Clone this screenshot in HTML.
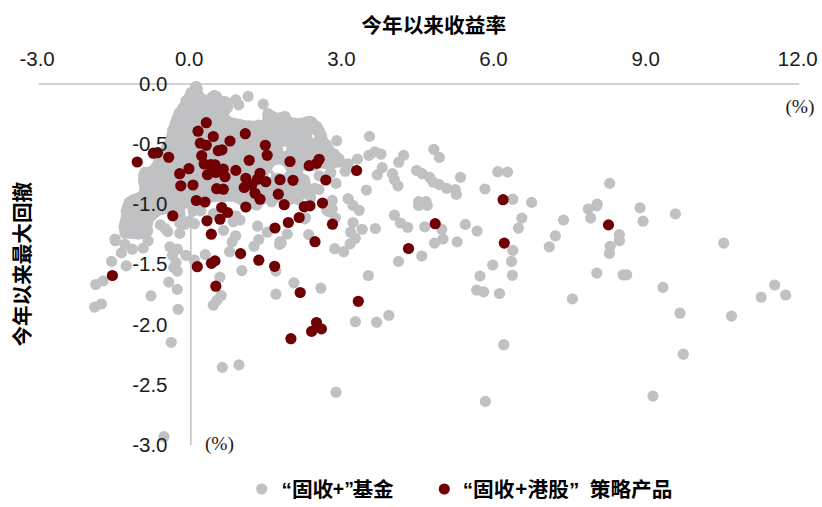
<!DOCTYPE html>
<html><head><meta charset="utf-8"><title>chart</title>
<style>html,body{margin:0;padding:0;background:#fff;font-family:"Liberation Sans",sans-serif}</style></head>
<body><svg width="822" height="507" viewBox="0 0 822 507" style="display:block">
<rect width="822" height="507" fill="#fff"/>
<line x1="38.6" y1="84.0" x2="799.3" y2="84.0" stroke="#c4c4c4" stroke-width="1.6"/>
<line x1="190.8" y1="84.0" x2="190.8" y2="445.3" stroke="#c4c4c4" stroke-width="1.6"/>
<g fill="#c0c1c3">
<path d="M196.1 86.5 L196.6 92.0 L199.5 97.0 L204.0 101.0 L208.0 100.5 L214.2 96.1 L220.0 102.0 L224.9 102.1 L227.6 107.5 L223.0 113.0 L222.0 118.0 L227.0 122.0 L237.0 124.2 L246.0 126.0 L255.0 126.3 L262.0 126.0 L268.0 124.0 L268.0 114.1 L279.5 120.1 L284.8 116.8 L289.0 125.0 L298.9 124.1 L309.6 121.5 L315.7 126.2 L319.0 132.2 L324.4 144.3 L331.1 153.7 L339.1 159.0 L339.5 161.7 L329.3 162.6 L320.0 163.0 L310.0 165.0 L298.6 165.1 L296.0 172.0 L300.0 180.0 L304.6 181.3 L303.0 188.0 L302.0 191.5 L297.0 198.0 L285.0 200.0 L278.0 196.0 L262.0 197.0 L256.7 204.0 L243.3 200.8 L234.2 195.0 L220.0 196.0 L205.0 197.0 L199.0 206.0 L194.0 210.5 L186.0 212.0 L179.6 214.0 L172.0 210.0 L163.0 207.0 L151.5 213.0 L148.0 220.0 L147.0 226.0 L146.0 232.0 L138.0 234.0 L127.0 232.5 L124.2 226.7 L126.7 216.7 L129.2 202.5 L135.0 200.0 L146.4 193.3 L143.7 180.8 L145.0 172.5 L153.0 172.0 L156.7 166.5 L164.2 153.2 L169.2 144.8 L171.7 136.5 L174.8 126.0 L176.5 121.0 L178.6 115.5 L181.2 111.3 L184.5 106.0 L188.4 99.3 L190.6 95.1 L195.4 90.0Z" stroke="#c0c1c3" stroke-width="11.2" stroke-linejoin="round"/>
<circle cx="196.6" cy="88.6" r="5.6"/>
<circle cx="196.6" cy="94.9" r="5.6"/>
<circle cx="199.6" cy="99.1" r="5.6"/>
<circle cx="205.9" cy="102.3" r="5.6"/>
<circle cx="212.5" cy="97.0" r="5.6"/>
<circle cx="216.5" cy="96.4" r="5.6"/>
<circle cx="222.2" cy="101.7" r="5.6"/>
<circle cx="226.8" cy="102.8" r="5.6"/>
<circle cx="225.4" cy="107.8" r="5.6"/>
<circle cx="220.8" cy="116.5" r="5.6"/>
<circle cx="225.6" cy="119.1" r="5.6"/>
<circle cx="229.4" cy="122.2" r="5.6"/>
<circle cx="239.1" cy="124.3" r="5.6"/>
<circle cx="249.4" cy="125.8" r="5.6"/>
<circle cx="258.6" cy="125.2" r="5.6"/>
<circle cx="265.1" cy="124.6" r="5.6"/>
<circle cx="267.7" cy="121.4" r="5.6"/>
<circle cx="269.7" cy="116.7" r="5.6"/>
<circle cx="277.0" cy="118.4" r="5.6"/>
<circle cx="281.4" cy="117.3" r="5.6"/>
<circle cx="288.8" cy="121.6" r="5.6"/>
<circle cx="294.3" cy="123.1" r="5.6"/>
<circle cx="301.1" cy="123.3" r="5.6"/>
<circle cx="307.8" cy="121.6" r="5.6"/>
<circle cx="311.7" cy="122.0" r="5.6"/>
<circle cx="318.2" cy="128.9" r="5.6"/>
<circle cx="321.5" cy="135.7" r="5.6"/>
<circle cx="321.9" cy="142.3" r="5.6"/>
<circle cx="326.4" cy="144.8" r="5.6"/>
<circle cx="329.5" cy="149.9" r="5.6"/>
<circle cx="334.2" cy="154.1" r="5.6"/>
<circle cx="337.8" cy="160.4" r="5.6"/>
<circle cx="332.9" cy="163.2" r="5.6"/>
<circle cx="325.6" cy="163.7" r="5.6"/>
<circle cx="314.7" cy="165.5" r="5.6"/>
<circle cx="308.6" cy="163.5" r="5.6"/>
<circle cx="299.9" cy="166.5" r="5.6"/>
<circle cx="295.6" cy="168.8" r="5.6"/>
<circle cx="297.8" cy="173.5" r="5.6"/>
<circle cx="303.1" cy="179.4" r="5.6"/>
<circle cx="305.4" cy="184.1" r="5.6"/>
<circle cx="303.1" cy="190.8" r="5.6"/>
<circle cx="302.0" cy="193.7" r="5.6"/>
<circle cx="294.3" cy="196.9" r="5.6"/>
<circle cx="288.1" cy="199.8" r="5.6"/>
<circle cx="280.2" cy="197.6" r="5.6"/>
<circle cx="272.9" cy="197.7" r="5.6"/>
<circle cx="266.6" cy="198.1" r="5.6"/>
<circle cx="261.8" cy="199.6" r="5.6"/>
<circle cx="253.5" cy="204.2" r="5.6"/>
<circle cx="244.8" cy="202.6" r="5.6"/>
<circle cx="236.3" cy="197.4" r="5.6"/>
<circle cx="229.8" cy="196.2" r="5.6"/>
<circle cx="222.9" cy="197.2" r="5.6"/>
<circle cx="214.2" cy="196.7" r="5.6"/>
<circle cx="210.6" cy="196.9" r="5.6"/>
<circle cx="203.2" cy="200.2" r="5.6"/>
<circle cx="198.2" cy="207.2" r="5.6"/>
<circle cx="190.9" cy="209.6" r="5.6"/>
<circle cx="184.4" cy="213.4" r="5.6"/>
<circle cx="174.9" cy="212.5" r="5.6"/>
<circle cx="165.5" cy="206.3" r="5.6"/>
<circle cx="160.9" cy="209.7" r="5.6"/>
<circle cx="155.4" cy="212.6" r="5.6"/>
<circle cx="151.8" cy="215.5" r="5.6"/>
<circle cx="146.3" cy="221.2" r="5.6"/>
<circle cx="147.6" cy="231.0" r="5.6"/>
<circle cx="143.8" cy="233.5" r="5.6"/>
<circle cx="135.1" cy="232.1" r="5.6"/>
<circle cx="131.4" cy="233.4" r="5.6"/>
<circle cx="124.7" cy="229.9" r="5.6"/>
<circle cx="127.1" cy="221.4" r="5.6"/>
<circle cx="126.2" cy="211.3" r="5.6"/>
<circle cx="127.4" cy="207.4" r="5.6"/>
<circle cx="133.3" cy="199.7" r="5.6"/>
<circle cx="138.5" cy="199.7" r="5.6"/>
<circle cx="144.0" cy="193.1" r="5.6"/>
<circle cx="144.9" cy="190.4" r="5.6"/>
<circle cx="146.2" cy="185.2" r="5.6"/>
<circle cx="143.7" cy="175.3" r="5.6"/>
<circle cx="148.9" cy="172.0" r="5.6"/>
<circle cx="154.6" cy="169.0" r="5.6"/>
<circle cx="158.8" cy="160.9" r="5.6"/>
<circle cx="162.8" cy="158.7" r="5.6"/>
<circle cx="166.7" cy="147.2" r="5.6"/>
<circle cx="172.6" cy="138.7" r="5.6"/>
<circle cx="172.8" cy="129.8" r="5.6"/>
<circle cx="175.4" cy="123.3" r="5.6"/>
<circle cx="177.1" cy="118.6" r="5.6"/>
<circle cx="179.2" cy="112.8" r="5.6"/>
<circle cx="182.9" cy="108.1" r="5.6"/>
<circle cx="186.0" cy="100.7" r="5.6"/>
<circle cx="189.6" cy="96.5" r="5.6"/>
<circle cx="191.1" cy="92.5" r="5.6"/>
<circle cx="197.2" cy="88.8" r="5.6"/>
<circle cx="200.8" cy="210.8" r="5.6"/>
<circle cx="213.3" cy="213.7" r="5.6"/>
<circle cx="248.1" cy="96.4" r="5.6"/>
<circle cx="263.2" cy="104.1" r="5.6"/>
<circle cx="214.2" cy="95.7" r="5.6"/>
<circle cx="225.0" cy="101.5" r="5.6"/>
<circle cx="235.8" cy="99.8" r="5.6"/>
<circle cx="238.7" cy="104.8" r="5.6"/>
<circle cx="268.0" cy="113.7" r="5.6"/>
<circle cx="285.0" cy="116.5" r="5.6"/>
<circle cx="278.3" cy="119.8" r="5.6"/>
<circle cx="299.2" cy="124.0" r="5.6"/>
<circle cx="310.0" cy="121.5" r="5.6"/>
<circle cx="316.7" cy="126.5" r="5.6"/>
<circle cx="320.0" cy="132.3" r="5.6"/>
<circle cx="336.7" cy="140.7" r="5.6"/>
<circle cx="289.7" cy="132.3" r="5.6"/>
<circle cx="369.5" cy="136.4" r="5.6"/>
<circle cx="433.8" cy="149.3" r="5.6"/>
<circle cx="439.4" cy="157.4" r="5.6"/>
<circle cx="368.8" cy="155.4" r="5.6"/>
<circle cx="374.9" cy="151.8" r="5.6"/>
<circle cx="381.0" cy="154.2" r="5.6"/>
<circle cx="403.6" cy="155.4" r="5.6"/>
<circle cx="398.7" cy="162.2" r="5.6"/>
<circle cx="357.4" cy="159.1" r="5.6"/>
<circle cx="348.1" cy="163.9" r="5.6"/>
<circle cx="345.2" cy="171.2" r="5.6"/>
<circle cx="338.4" cy="159.1" r="5.6"/>
<circle cx="329.9" cy="153.0" r="5.6"/>
<circle cx="382.2" cy="167.6" r="5.6"/>
<circle cx="377.3" cy="174.9" r="5.6"/>
<circle cx="392.4" cy="173.7" r="5.6"/>
<circle cx="394.4" cy="179.8" r="5.6"/>
<circle cx="398.0" cy="185.8" r="5.6"/>
<circle cx="366.4" cy="190.0" r="5.6"/>
<circle cx="416.7" cy="170.5" r="5.6"/>
<circle cx="422.3" cy="173.7" r="5.6"/>
<circle cx="429.6" cy="177.3" r="5.6"/>
<circle cx="433.3" cy="182.2" r="5.6"/>
<circle cx="439.4" cy="184.6" r="5.6"/>
<circle cx="446.7" cy="188.3" r="5.6"/>
<circle cx="455.2" cy="189.5" r="5.6"/>
<circle cx="456.4" cy="194.4" r="5.6"/>
<circle cx="460.5" cy="177.3" r="5.6"/>
<circle cx="418.7" cy="201.7" r="5.6"/>
<circle cx="426.0" cy="201.7" r="5.6"/>
<circle cx="329.9" cy="173.7" r="5.6"/>
<circle cx="336.0" cy="183.4" r="5.6"/>
<circle cx="348.1" cy="198.7" r="5.6"/>
<circle cx="332.3" cy="200.4" r="5.6"/>
<circle cx="304.3" cy="179.8" r="5.6"/>
<circle cx="300.7" cy="194.4" r="5.6"/>
<circle cx="309.2" cy="191.9" r="5.6"/>
<circle cx="318.9" cy="189.5" r="5.6"/>
<circle cx="282.4" cy="187.1" r="5.6"/>
<circle cx="497.8" cy="171.7" r="5.6"/>
<circle cx="507.5" cy="172.0" r="5.6"/>
<circle cx="484.9" cy="189.0" r="5.6"/>
<circle cx="609.7" cy="183.4" r="5.6"/>
<circle cx="512.8" cy="199.2" r="5.6"/>
<circle cx="531.6" cy="202.4" r="5.6"/>
<circle cx="597.3" cy="204.1" r="5.6"/>
<circle cx="129.9" cy="216.4" r="5.6"/>
<circle cx="136.0" cy="211.5" r="5.6"/>
<circle cx="144.5" cy="213.9" r="5.6"/>
<circle cx="138.4" cy="223.7" r="5.6"/>
<circle cx="128.7" cy="228.5" r="5.6"/>
<circle cx="145.7" cy="227.3" r="5.6"/>
<circle cx="125.0" cy="233.4" r="5.6"/>
<circle cx="115.3" cy="240.7" r="5.6"/>
<circle cx="125.0" cy="244.4" r="5.6"/>
<circle cx="121.4" cy="252.9" r="5.6"/>
<circle cx="132.3" cy="249.2" r="5.6"/>
<circle cx="111.6" cy="261.4" r="5.6"/>
<circle cx="126.2" cy="265.8" r="5.6"/>
<circle cx="103.1" cy="280.9" r="5.6"/>
<circle cx="95.8" cy="284.5" r="5.6"/>
<circle cx="94.6" cy="307.1" r="5.6"/>
<circle cx="101.4" cy="304.0" r="5.6"/>
<circle cx="148.1" cy="240.7" r="5.6"/>
<circle cx="143.3" cy="248.0" r="5.6"/>
<circle cx="160.3" cy="224.9" r="5.6"/>
<circle cx="165.2" cy="228.5" r="5.6"/>
<circle cx="179.8" cy="233.4" r="5.6"/>
<circle cx="170.0" cy="246.8" r="5.6"/>
<circle cx="177.3" cy="249.2" r="5.6"/>
<circle cx="172.5" cy="255.3" r="5.6"/>
<circle cx="185.8" cy="255.3" r="5.6"/>
<circle cx="176.1" cy="262.6" r="5.6"/>
<circle cx="173.7" cy="267.5" r="5.6"/>
<circle cx="177.3" cy="271.1" r="5.6"/>
<circle cx="168.8" cy="282.1" r="5.6"/>
<circle cx="177.3" cy="289.4" r="5.6"/>
<circle cx="151.0" cy="295.9" r="5.6"/>
<circle cx="178.1" cy="309.3" r="5.6"/>
<circle cx="182.2" cy="222.5" r="5.6"/>
<circle cx="188.3" cy="215.2" r="5.6"/>
<circle cx="194.4" cy="223.7" r="5.6"/>
<circle cx="205.3" cy="254.6" r="5.6"/>
<circle cx="194.4" cy="260.2" r="5.6"/>
<circle cx="219.9" cy="277.2" r="5.6"/>
<circle cx="221.1" cy="295.5" r="5.6"/>
<circle cx="217.0" cy="300.3" r="5.6"/>
<circle cx="213.3" cy="305.2" r="5.6"/>
<circle cx="241.8" cy="270.6" r="5.6"/>
<circle cx="223.6" cy="230.3" r="5.6"/>
<circle cx="235.7" cy="235.8" r="5.6"/>
<circle cx="232.1" cy="241.9" r="5.6"/>
<circle cx="229.6" cy="251.7" r="5.6"/>
<circle cx="257.6" cy="226.1" r="5.6"/>
<circle cx="258.8" cy="239.5" r="5.6"/>
<circle cx="254.0" cy="246.3" r="5.6"/>
<circle cx="267.3" cy="232.2" r="5.6"/>
<circle cx="235.7" cy="217.6" r="5.6"/>
<circle cx="275.9" cy="294.2" r="5.6"/>
<circle cx="279.5" cy="244.4" r="5.6"/>
<circle cx="275.9" cy="271.1" r="5.6"/>
<circle cx="332.3" cy="209.1" r="5.6"/>
<circle cx="328.7" cy="211.5" r="5.6"/>
<circle cx="353.0" cy="205.4" r="5.6"/>
<circle cx="359.1" cy="210.3" r="5.6"/>
<circle cx="353.0" cy="222.5" r="5.6"/>
<circle cx="362.2" cy="229.3" r="5.6"/>
<circle cx="375.4" cy="228.5" r="5.6"/>
<circle cx="350.6" cy="232.2" r="5.6"/>
<circle cx="355.4" cy="238.3" r="5.6"/>
<circle cx="350.1" cy="243.9" r="5.6"/>
<circle cx="334.7" cy="248.7" r="5.6"/>
<circle cx="343.7" cy="251.7" r="5.6"/>
<circle cx="308.7" cy="234.6" r="5.6"/>
<circle cx="305.5" cy="217.6" r="5.6"/>
<circle cx="287.3" cy="234.1" r="5.6"/>
<circle cx="281.2" cy="243.1" r="5.6"/>
<circle cx="394.4" cy="215.2" r="5.6"/>
<circle cx="400.4" cy="223.0" r="5.6"/>
<circle cx="407.7" cy="227.3" r="5.6"/>
<circle cx="418.7" cy="205.4" r="5.6"/>
<circle cx="427.2" cy="205.4" r="5.6"/>
<circle cx="424.8" cy="226.8" r="5.6"/>
<circle cx="441.8" cy="229.3" r="5.6"/>
<circle cx="443.0" cy="239.0" r="5.6"/>
<circle cx="434.5" cy="243.1" r="5.6"/>
<circle cx="457.1" cy="241.9" r="5.6"/>
<circle cx="465.4" cy="224.4" r="5.6"/>
<circle cx="477.1" cy="231.0" r="5.6"/>
<circle cx="421.8" cy="256.0" r="5.6"/>
<circle cx="398.5" cy="261.4" r="5.6"/>
<circle cx="368.3" cy="275.5" r="5.6"/>
<circle cx="293.9" cy="282.8" r="5.6"/>
<circle cx="320.9" cy="288.2" r="5.6"/>
<circle cx="480.0" cy="276.0" r="5.6"/>
<circle cx="476.6" cy="290.1" r="5.6"/>
<circle cx="388.8" cy="315.4" r="5.6"/>
<circle cx="376.6" cy="322.2" r="5.6"/>
<circle cx="355.4" cy="321.7" r="5.6"/>
<circle cx="521.8" cy="218.1" r="5.6"/>
<circle cx="518.4" cy="228.1" r="5.6"/>
<circle cx="512.8" cy="250.4" r="5.6"/>
<circle cx="511.6" cy="261.4" r="5.6"/>
<circle cx="512.4" cy="275.3" r="5.6"/>
<circle cx="492.7" cy="265.0" r="5.6"/>
<circle cx="483.6" cy="291.8" r="5.6"/>
<circle cx="499.5" cy="293.5" r="5.6"/>
<circle cx="563.5" cy="220.0" r="5.6"/>
<circle cx="555.4" cy="235.8" r="5.6"/>
<circle cx="549.3" cy="246.8" r="5.6"/>
<circle cx="588.3" cy="209.1" r="5.6"/>
<circle cx="596.8" cy="205.9" r="5.6"/>
<circle cx="590.7" cy="218.1" r="5.6"/>
<circle cx="619.4" cy="234.6" r="5.6"/>
<circle cx="619.4" cy="240.7" r="5.6"/>
<circle cx="610.2" cy="246.3" r="5.6"/>
<circle cx="609.4" cy="253.4" r="5.6"/>
<circle cx="596.8" cy="273.1" r="5.6"/>
<circle cx="623.1" cy="274.8" r="5.6"/>
<circle cx="626.7" cy="274.8" r="5.6"/>
<circle cx="572.5" cy="298.9" r="5.6"/>
<circle cx="640.1" cy="207.9" r="5.6"/>
<circle cx="643.0" cy="221.2" r="5.6"/>
<circle cx="675.4" cy="213.9" r="5.6"/>
<circle cx="663.0" cy="287.4" r="5.6"/>
<circle cx="680.0" cy="313.2" r="5.6"/>
<circle cx="723.7" cy="243.1" r="5.6"/>
<circle cx="731.5" cy="316.1" r="5.6"/>
<circle cx="774.6" cy="285.0" r="5.6"/>
<circle cx="761.2" cy="297.2" r="5.6"/>
<circle cx="785.7" cy="295.0" r="5.6"/>
<circle cx="171.2" cy="342.3" r="5.6"/>
<circle cx="222.3" cy="367.4" r="5.6"/>
<circle cx="238.9" cy="364.9" r="5.6"/>
<circle cx="163.9" cy="436.7" r="5.6"/>
<circle cx="336.0" cy="392.2" r="5.6"/>
<circle cx="503.8" cy="344.7" r="5.6"/>
<circle cx="485.4" cy="401.4" r="5.6"/>
<circle cx="653.0" cy="396.1" r="5.6"/>
<circle cx="683.3" cy="354.2" r="5.6"/>
<circle cx="268.3" cy="166.7" r="5.6"/>
<circle cx="296.7" cy="197.5" r="5.6"/>
<circle cx="315.0" cy="188.3" r="5.6"/>
<circle cx="319.2" cy="175.8" r="5.6"/>
<circle cx="330.8" cy="172.5" r="5.6"/>
<circle cx="326.7" cy="210.0" r="5.6"/>
<circle cx="271.7" cy="201.7" r="5.6"/>
<circle cx="286.7" cy="187.5" r="5.6"/>
<circle cx="234.2" cy="195.0" r="5.6"/>
<circle cx="243.3" cy="200.8" r="5.6"/>
<circle cx="256.7" cy="205.0" r="5.6"/>
<circle cx="235.8" cy="215.8" r="5.6"/>
<circle cx="240.0" cy="220.0" r="5.6"/>
<circle cx="233.3" cy="221.7" r="5.6"/>
<circle cx="280.0" cy="241.7" r="5.6"/>
<circle cx="145.0" cy="172.5" r="5.6"/>
<circle cx="143.7" cy="180.8" r="5.6"/>
<circle cx="135.0" cy="200.0" r="5.6"/>
<circle cx="129.2" cy="202.5" r="5.6"/>
<circle cx="126.7" cy="216.7" r="5.6"/>
<circle cx="124.2" cy="226.7" r="5.6"/>
<circle cx="115.0" cy="239.2" r="5.6"/>
<circle cx="185.0" cy="224.2" r="5.6"/>
<circle cx="191.7" cy="211.7" r="5.6"/>
<circle cx="329.3" cy="162.6" r="5.6"/>
<circle cx="339.5" cy="161.7" r="5.6"/>
<circle cx="297.8" cy="199.3" r="5.6"/>
<circle cx="310.6" cy="197.6" r="5.6"/>
<circle cx="304.6" cy="218.9" r="5.6"/>
<circle cx="331.0" cy="202.7" r="5.6"/>
<circle cx="335.3" cy="218.0" r="5.6"/>
<circle cx="167.7" cy="231.6" r="5.6"/>
<circle cx="179.6" cy="223.1" r="5.6"/>
</g>
<g fill="#fff">
<path d="M184.9 209.5 L187.3 207.8 L188.3 215.5 L185.8 217.3Z"/>
<path d="M282.5 147.0 L286.0 146.5 L286.5 150.0 L283.5 151.5Z"/>
<path d="M272.0 169.0 L275.0 165.3 L280.0 164.3 L284.0 166.5 L286.5 171.0 L284.0 174.3 L278.0 172.8 L274.0 173.3Z"/>
<path d="M268.0 173.5 L271.0 173.5 L271.0 177.0 L268.5 177.0Z"/>
<path d="M312.0 134.5 L314.0 135.0 L314.5 138.5 L312.5 138.0Z"/>
</g>
<g fill="#c0c1c3">
</g>
<g fill="#710005">
<circle cx="235.8" cy="170.4" r="5.6"/>
<circle cx="188.9" cy="168.7" r="5.6"/>
<circle cx="206.3" cy="122.7" r="5.6"/>
<circle cx="198.0" cy="131.2" r="5.6"/>
<circle cx="213.3" cy="136.5" r="5.6"/>
<circle cx="245.3" cy="133.7" r="5.6"/>
<circle cx="230.0" cy="141.0" r="5.6"/>
<circle cx="200.3" cy="143.2" r="5.6"/>
<circle cx="206.3" cy="145.3" r="5.6"/>
<circle cx="218.3" cy="150.7" r="5.6"/>
<circle cx="222.0" cy="149.8" r="5.6"/>
<circle cx="201.7" cy="155.7" r="5.6"/>
<circle cx="153.3" cy="153.2" r="5.6"/>
<circle cx="157.5" cy="152.7" r="5.6"/>
<circle cx="168.7" cy="157.3" r="5.6"/>
<circle cx="137.2" cy="162.0" r="5.6"/>
<circle cx="249.2" cy="160.3" r="5.6"/>
<circle cx="204.2" cy="164.0" r="5.6"/>
<circle cx="215.0" cy="164.8" r="5.6"/>
<circle cx="265.3" cy="145.3" r="5.6"/>
<circle cx="267.2" cy="155.3" r="5.6"/>
<circle cx="290.0" cy="161.5" r="5.6"/>
<circle cx="319.2" cy="159.3" r="5.6"/>
<circle cx="309.2" cy="165.7" r="5.6"/>
<circle cx="179.7" cy="173.7" r="5.6"/>
<circle cx="180.8" cy="185.8" r="5.6"/>
<circle cx="193.0" cy="185.0" r="5.6"/>
<circle cx="196.3" cy="200.5" r="5.6"/>
<circle cx="205.0" cy="202.0" r="5.6"/>
<circle cx="172.8" cy="215.8" r="5.6"/>
<circle cx="207.0" cy="220.8" r="5.6"/>
<circle cx="211.3" cy="234.2" r="5.6"/>
<circle cx="210.8" cy="164.7" r="5.6"/>
<circle cx="223.3" cy="169.2" r="5.6"/>
<circle cx="207.5" cy="174.7" r="5.6"/>
<circle cx="215.8" cy="172.5" r="5.6"/>
<circle cx="225.0" cy="176.7" r="5.6"/>
<circle cx="260.0" cy="173.3" r="5.6"/>
<circle cx="245.8" cy="178.3" r="5.6"/>
<circle cx="257.5" cy="179.2" r="5.6"/>
<circle cx="265.8" cy="181.7" r="5.6"/>
<circle cx="244.2" cy="187.5" r="5.6"/>
<circle cx="251.7" cy="185.0" r="5.6"/>
<circle cx="255.0" cy="193.3" r="5.6"/>
<circle cx="260.0" cy="199.2" r="5.6"/>
<circle cx="280.0" cy="179.7" r="5.6"/>
<circle cx="293.0" cy="180.3" r="5.6"/>
<circle cx="278.3" cy="194.2" r="5.6"/>
<circle cx="284.2" cy="204.7" r="5.6"/>
<circle cx="316.7" cy="163.3" r="5.6"/>
<circle cx="325.8" cy="180.0" r="5.6"/>
<circle cx="322.5" cy="203.0" r="5.6"/>
<circle cx="304.2" cy="206.7" r="5.6"/>
<circle cx="310.0" cy="205.8" r="5.6"/>
<circle cx="299.2" cy="217.5" r="5.6"/>
<circle cx="288.3" cy="222.5" r="5.6"/>
<circle cx="275.0" cy="228.0" r="5.6"/>
<circle cx="332.5" cy="224.2" r="5.6"/>
<circle cx="315.0" cy="241.7" r="5.6"/>
<circle cx="216.7" cy="188.7" r="5.6"/>
<circle cx="223.3" cy="189.2" r="5.6"/>
<circle cx="221.7" cy="207.5" r="5.6"/>
<circle cx="227.5" cy="212.5" r="5.6"/>
<circle cx="245.8" cy="207.0" r="5.6"/>
<circle cx="220.0" cy="219.2" r="5.6"/>
<circle cx="356.6" cy="170.5" r="5.6"/>
<circle cx="503.1" cy="199.7" r="5.6"/>
<circle cx="240.6" cy="253.6" r="5.6"/>
<circle cx="258.8" cy="260.2" r="5.6"/>
<circle cx="274.6" cy="266.3" r="5.6"/>
<circle cx="197.3" cy="266.7" r="5.6"/>
<circle cx="211.4" cy="263.3" r="5.6"/>
<circle cx="215.0" cy="260.9" r="5.6"/>
<circle cx="215.8" cy="286.2" r="5.6"/>
<circle cx="112.4" cy="275.5" r="5.6"/>
<circle cx="435.2" cy="223.7" r="5.6"/>
<circle cx="408.5" cy="248.5" r="5.6"/>
<circle cx="300.2" cy="292.5" r="5.6"/>
<circle cx="358.3" cy="301.3" r="5.6"/>
<circle cx="504.3" cy="243.1" r="5.6"/>
<circle cx="608.5" cy="224.9" r="5.6"/>
<circle cx="290.9" cy="338.7" r="5.6"/>
<circle cx="311.6" cy="331.4" r="5.6"/>
<circle cx="321.4" cy="328.9" r="5.6"/>
<circle cx="316.5" cy="322.5" r="5.6"/>
</g>
<g font-family="'Liberation Sans', sans-serif" font-size="20.5" fill="#1c1c1c">
<text x="37.1" y="66.4" text-anchor="middle">-3.0</text>
<text x="189.2" y="66.4" text-anchor="middle">0.0</text>
<text x="341.4" y="66.4" text-anchor="middle">3.0</text>
<text x="493.5" y="66.4" text-anchor="middle">6.0</text>
<text x="645.7" y="66.4" text-anchor="middle">9.0</text>
<text x="797.8" y="66.4" text-anchor="middle">12.0</text>
<text x="167.5" y="90.7" text-anchor="end">0.0</text>
<text x="167.5" y="150.9" text-anchor="end">-0.5</text>
<text x="167.5" y="211.1" text-anchor="end">-1.0</text>
<text x="167.5" y="271.3" text-anchor="end">-1.5</text>
<text x="167.5" y="331.6" text-anchor="end">-2.0</text>
<text x="167.5" y="391.8" text-anchor="end">-2.5</text>
<text x="167.5" y="452.0" text-anchor="end">-3.0</text>
<text x="800" y="112.8" text-anchor="middle" font-size="19.5" font-family="'Liberation Serif', serif">(%)</text>
<text x="219.5" y="449.8" text-anchor="middle" font-size="19.5" font-family="'Liberation Serif', serif">(%)</text>
</g>
<text x="361.25" y="33.2" font-family="'Liberation Sans', 'Noto Sans CJK SC', sans-serif" font-weight="bold" font-size="20.7" fill="#000">今年以来收益率</text>
<text transform="translate(29.60 346.60) rotate(-90)" x="0" y="0" font-family="'Liberation Sans', 'Noto Sans CJK SC', sans-serif" font-weight="bold" font-size="20.6" fill="#000">今年以来最大回撤</text>
<circle cx="261.7" cy="489" r="5.6" fill="#c0c1c3"/>
<circle cx="444.3" cy="489" r="5.6" fill="#710005"/>
<text x="333.3" y="496.6" text-anchor="end" font-family="'Liberation Sans', 'Noto Sans CJK SC', sans-serif" font-weight="bold" font-size="20.7" fill="#000">“固收</text>
<text x="332.8" y="495.8" font-family="'Liberation Sans', sans-serif" font-weight="bold" font-size="19.5" fill="#000">+”</text>
<text x="352.4" y="496.6" font-family="'Liberation Sans', 'Noto Sans CJK SC', sans-serif" font-weight="bold" font-size="20.7" fill="#000">基金</text>
<text x="514.5" y="496.6" text-anchor="end" font-family="'Liberation Sans', 'Noto Sans CJK SC', sans-serif" font-weight="bold" font-size="20.7" fill="#000">“固收</text>
<text x="515.3" y="495.8" font-family="'Liberation Sans', sans-serif" font-weight="bold" font-size="20.5" fill="#000">+</text>
<text x="527.6" y="496.6" font-family="'Liberation Sans', 'Noto Sans CJK SC', sans-serif" font-weight="bold" font-size="20.7" fill="#000">港股”</text>
<text x="589.7" y="496.6" font-family="'Liberation Sans', 'Noto Sans CJK SC', sans-serif" font-weight="bold" font-size="20.7" fill="#000">策略产品</text>
</svg></body></html>
